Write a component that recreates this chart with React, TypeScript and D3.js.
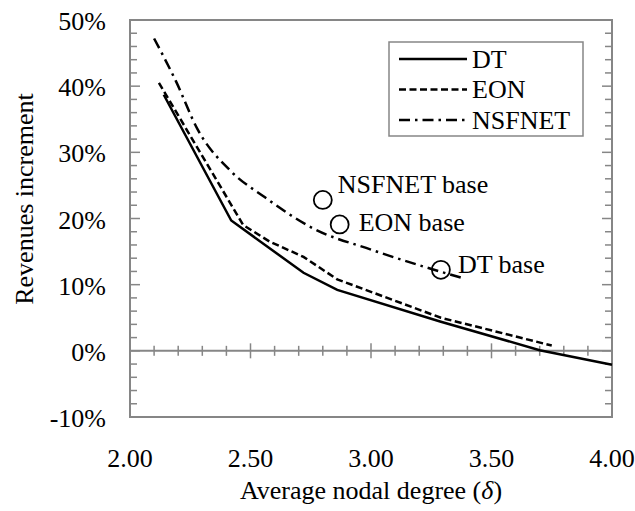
import React from "react";
import * as d3 from "d3";

const dtX = [2.14, 2.42, 2.72, 2.86, 3.29, 3.70, 4.00];
const dtY = [38.7, 19.7, 11.8, 9.2, 4.4, 0.1, -2.1];
const eonX = [2.12, 2.47, 2.58, 2.72, 2.86, 3.29, 3.75];
const eonY = [40.5, 19.0, 16.5, 14.2, 10.8, 5.0, 0.8];
const nsfX = [2.10, 2.19, 2.28, 2.42, 2.56, 2.76, 3.00, 3.23, 3.38];
const nsfY = [47.2, 40.8, 33.5, 27.1, 23.2, 18.5, 15.3, 12.6, 11.0];
const baseX = [2.80, 2.87, 3.29];
const baseY = [22.8, 19.1, 12.25];
const baseLabels = ["NSFNET base", "EON base", "DT base"];
const yTicks = [-10, 0, 10, 20, 30, 40, 50];
const xTicks = [2.0, 2.5, 3.0, 3.5, 4.0];
const seriesNames = ["DT", "EON", "NSFNET"];

const W = 635, H = 511;
const L = 130, R = 612, T = 20, B = 417;
const FONT = "Liberation Serif, DejaVu Serif, serif";
const AX = "#868686";
const ts: React.CSSProperties = { fontFamily: FONT, fontSize: 26 };

export default function App() {
  const x = d3.scaleLinear().domain([2, 4]).range([L, R]);
  const y = d3.scaleLinear().domain([-10, 50]).range([B, T]);
  const lin = d3.line<[number, number]>().x(d => x(d[0])).y(d => y(d[1]));
  const smooth = d3.line<[number, number]>().x(d => x(d[0])).y(d => y(d[1])).curve(d3.curveMonotoneX);
  const dt = dtX.map((v, i) => [v, dtY[i]] as [number, number]);
  const eon = eonX.map((v, i) => [v, eonY[i]] as [number, number]);
  const nsf = nsfX.map((v, i) => [v, nsfY[i]] as [number, number]);
  const dashes = ["none", "7,3.5", "11,5,2.5,5"];
  const labelOff = [[15, -7], [19, 7], [17, 3]];
  const minorY = d3.range(-10, 50.01, 2);
  const minorX = d3.range(2.1, 3.95, 0.1);

  return (
    <svg width={W} height={H} style={{ position: "absolute", left: 0, top: 0, background: "#fff" }}>
      <rect x={0} y={0} width={W} height={H} fill="#fff" />
      {minorY.map((v, i) => {
        const major = Math.abs(v % 10) < 0.01;
        const len = major ? 10 : 7;
        return (
          <g key={i} stroke={AX} strokeWidth={1.5}>
            <line x1={L} x2={L + len} y1={y(v)} y2={y(v)} />
            <line x1={R - len} x2={R} y1={y(v)} y2={y(v)} />
          </g>
        );
      })}
      <line x1={L} x2={R} y1={y(0)} y2={y(0)} stroke={AX} strokeWidth={2} />
      {minorX.map((v, i) => {
        const k = Math.round(v * 10);
        const major = k % 5 === 0;
        const h = major ? 7.5 : 5;
        return <line key={i} x1={x(v)} x2={x(v)} y1={y(0) - h} y2={y(0) + h} stroke={AX} strokeWidth={1.5} />;
      })}
      <rect x={L} y={T} width={R - L} height={B - T} fill="none" stroke={AX} strokeWidth={2} />
      {yTicks.map(v => (
        <text key={v} x={106} y={y(v) + 10} textAnchor="end" style={ts} fill="#000">{`${v}%`}</text>
      ))}
      {xTicks.map(v => (
        <text key={v} x={x(v)} y={467} textAnchor="middle" style={ts} fill="#000">{v.toFixed(2)}</text>
      ))}
      <text x={(L + R) / 2} y={499} textAnchor="middle" style={ts} fill="#000">
        Average nodal degree (<tspan fontStyle="italic">δ</tspan>)
      </text>
      <text transform={`translate(33, ${(90 + 308) / 2}) rotate(-90)`} textAnchor="middle" style={ts} fill="#000">
        Revenues increment
      </text>
      <path d={lin(dt) || ""} fill="none" stroke="#000" strokeWidth={2.5} />
      <path d={lin(eon) || ""} fill="none" stroke="#000" strokeWidth={2.5} strokeDasharray={dashes[1]} />
      <path d={smooth(nsf) || ""} fill="none" stroke="#000" strokeWidth={2.5} strokeDasharray={dashes[2]} />
      {baseX.map((v, i) => (
        <g key={i}>
          <circle cx={x(v)} cy={y(baseY[i])} r={9} fill="none" stroke="#000" strokeWidth={1.8} />
          <text x={x(v) + labelOff[i][0]} y={y(baseY[i]) + labelOff[i][1]} style={ts} fill="#000">{baseLabels[i]}</text>
        </g>
      ))}
      <rect x={389} y={42} width={194} height={94} fill="#fff" stroke={AX} strokeWidth={1.5} />
      {seriesNames.map((n, i) => (
        <g key={n}>
          <line x1={399} x2={467} y1={59 + i * 30.5} y2={59 + i * 30.5} stroke="#000" strokeWidth={2.5} strokeDasharray={dashes[i]} />
          <text x={472} y={67.5 + i * 30.5} style={ts} fill="#000">{n}</text>
        </g>
      ))}
    </svg>
  );
}
